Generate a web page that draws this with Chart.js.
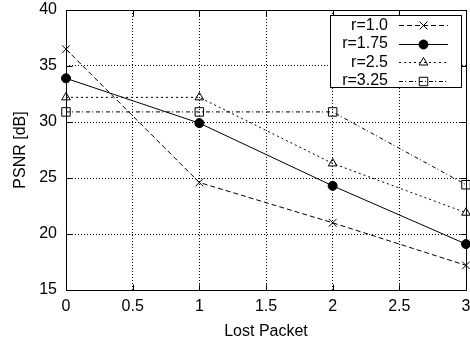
<!DOCTYPE html>
<html>
<head>
<meta charset="utf-8">
<script src="https://cdn.jsdelivr.net/npm/chart.js@4.4.0/dist/chart.umd.min.js"></script>
<style>
  html, body { margin: 0; padding: 0; background: #fff; }
  #wrap { width: 470px; height: 344px; }
</style>
</head>
<body>
<div id="wrap"><canvas id="psnrChart" width="470" height="344"></canvas></div>
<script>
  "use strict";

  // values
  const lostPacket = [0, 1, 2, 3];
  const psnrR100 = [36.5, 24.6, 21.0, 17.2];
  const psnrR175 = [33.9, 29.9, 24.3, 19.1];
  const psnrR250 = [32.2, 32.2, 26.3, 21.9];
  const psnrR325 = [30.9, 30.9, 30.9, 24.4];
  const seriesLabels = ["r=1.0", "r=1.75", "r=2.5", "r=3.25"];
  const xTickValues = [0, 0.5, 1, 1.5, 2, 2.5, 3];
  const yTickValues = [15, 20, 25, 30, 35, 40];

  const FONT = "'Liberation Sans', Arial, Helvetica, sans-serif";
  const SIZE = 16;
  const toPoints = (values) => values.map((v, i) => ({ x: lostPacket[i], y: v }));

  const makeSeries = (label, values, dash, style, radius, fill) => ({
    label,
    data: toPoints(values),
    borderColor: "#000",
    borderWidth: 1,
    borderDash: dash,
    pointStyle: style,
    pointRadius: radius,
    pointHoverRadius: radius,
    pointBorderColor: "#000",
    pointBackgroundColor: fill,
    pointBorderWidth: 1,
    tension: 0,
    fill: false,
    clip: false
  });

  const frameTicks = {
    id: "frameTicks",
    beforeDatasetsDraw(chart) {
      const { ctx, chartArea: a, scales } = chart;
      const L = Math.round(a.left) + 0.5;
      const R = Math.round(a.right) + 0.5;
      const T = Math.round(a.top) + 0.5;
      const B = Math.round(a.bottom) + 0.5;
      ctx.save();
      ctx.strokeStyle = "#000";
      ctx.lineWidth = 1;
      ctx.setLineDash([]);
      ctx.beginPath();
      ctx.rect(L, T, R - L, B - T);
      xTickValues.forEach((v) => {
        const px = Math.round(scales.x.getPixelForValue(v)) + 0.5;
        ctx.moveTo(px, B); ctx.lineTo(px, B - 6);
        ctx.moveTo(px, T); ctx.lineTo(px, T + 6);
      });
      yTickValues.forEach((v) => {
        const py = Math.round(scales.y.getPixelForValue(v)) + 0.5;
        ctx.moveTo(L, py); ctx.lineTo(L + 6, py);
        ctx.moveTo(R, py); ctx.lineTo(R - 6, py);
      });
      ctx.stroke();
      ctx.restore();
    }
  };

  const boxLegend = {
    id: "boxLegend",
    afterDatasetsDraw(chart) {
      const { ctx } = chart;
      const box = { left: 330.5, top: 15.5, right: 461.5, bottom: 87.5 };
      const rows = [25, 43.5, 62, 80.5];
      ctx.save();
      ctx.fillStyle = "#fff";
      ctx.strokeStyle = "#000";
      ctx.lineWidth = 1;
      ctx.setLineDash([]);
      ctx.fillRect(box.left, box.top, box.right - box.left, box.bottom - box.top);
      ctx.strokeRect(box.left, box.top, box.right - box.left, box.bottom - box.top);
      ctx.font = `${SIZE}px ${FONT}`;
      ctx.textAlign = "right";
      ctx.textBaseline = "middle";
      chart.data.datasets.forEach((ds, i) => {
        const y = rows[i];
        ctx.fillStyle = "#000";
        ctx.fillText(ds.label, 388, y + 0.5);
        ctx.strokeStyle = "#000";
        ctx.lineWidth = 1;
        ctx.setLineDash(ds.borderDash);
        ctx.beginPath();
        ctx.moveTo(399, Math.round(y) + 0.5);
        ctx.lineTo(448, Math.round(y) + 0.5);
        ctx.stroke();
        ctx.setLineDash([]);
        ctx.fillStyle = ds.pointBackgroundColor;
        ctx.strokeStyle = ds.pointBorderColor;
        if (Chart.helpers && Chart.helpers.drawPoint) {
          Chart.helpers.drawPoint(ctx, {
            pointStyle: ds.pointStyle,
            radius: ds.pointRadius,
            rotation: 0,
            borderWidth: ds.pointBorderWidth
          }, 423.5, Math.round(y) + 0.5);
        }
      });
      ctx.restore();
    }
  };

  const canvas = document.getElementById("psnrChart");
  new Chart(canvas, {
    type: "line",
    data: {
      datasets: [
        makeSeries(seriesLabels[0], psnrR100, [5, 3], "crossRot", 5.5, "rgba(0,0,0,0)"),
        makeSeries(seriesLabels[1], psnrR175, [], "circle", 4.5, "#000"),
        makeSeries(seriesLabels[2], psnrR250, [2, 3], "triangle", 5, "rgba(0,0,0,0)"),
        makeSeries(seriesLabels[3], psnrR325, [4, 2, 1, 3], "rect", 6, "rgba(0,0,0,0)")
      ]
    },
    options: {
      responsive: false,
      animation: false,
      devicePixelRatio: 1,
      layout: { autoPadding: false, padding: { top: 10, right: 4, bottom: 0, left: 0 } },
      plugins: {
        legend: { display: false },
        tooltip: { enabled: false }
      },
      font: { family: FONT, size: SIZE },
      scales: {
        x: {
          type: "linear",
          min: 0,
          max: 3,
          afterBuildTicks: (scale) => { scale.ticks = xTickValues.map((value) => ({ value })); },
          afterFit: (scale) => {
            scale.height = 54;
            scale.paddingLeft = 0;
            scale.paddingRight = 0;
          },
          ticks: {
            color: "#000",
            padding: 7,
            maxRotation: 0,
            font: { family: FONT, size: SIZE },
            callback: (value) => String(value)
          },
          grid: { color: "#000", lineWidth: 1, drawTicks: false },
          border: { display: false, dash: [1, 2] },
          title: {
            display: true,
            text: "Lost Packet",
            color: "#000",
            font: { family: FONT, size: SIZE },
            padding: { top: 0, bottom: 3 }
          }
        },
        y: {
          type: "linear",
          min: 15,
          max: 40,
          afterBuildTicks: (scale) => { scale.ticks = yTickValues.map((value) => ({ value })); },
          afterFit: (scale) => {
            scale.width = 66;
            scale.paddingTop = 0;
            scale.paddingBottom = 0;
          },
          ticks: {
            color: "#000",
            padding: 9,
            font: { family: FONT, size: SIZE },
            callback: (value) => String(value)
          },
          grid: { color: "#000", lineWidth: 1, drawTicks: false },
          border: { display: false, dash: [1, 2] },
          title: {
            display: true,
            text: "PSNR [dB]",
            color: "#000",
            font: { family: FONT, size: SIZE },
            padding: { top: 10.5, bottom: 0 }
          }
        }
      }
    },
    plugins: [frameTicks, boxLegend]
  });
</script>
</body>
</html>
